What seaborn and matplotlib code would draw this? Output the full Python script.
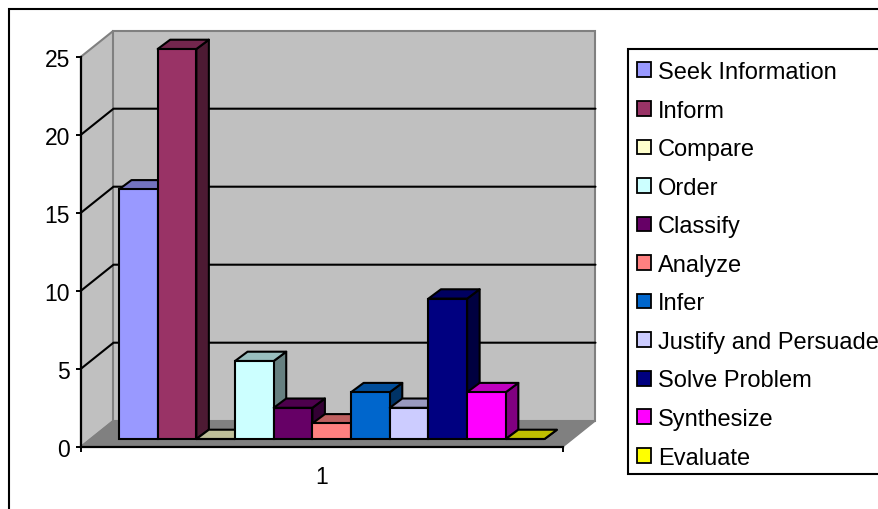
import matplotlib
matplotlib.use("Agg")
import matplotlib.pyplot as plt
from matplotlib.colors import to_rgb
from matplotlib.patches import Patch, Polygon, Rectangle
import pandas as pd
import seaborn as sns

activities = ["Seek Information", "Inform", "Compare", "Order", "Classify", "Analyze",
              "Infer", "Justify and Persuade", "Solve Problem", "Synthesize", "Evaluate"]
counts = [16, 25, 0, 5, 2, 1, 3, 2, 9, 3, 0]
colors = ["#9999FF", "#993366", "#FFFFCC", "#CCFFFF", "#660066", "#FF8080",
          "#0066CC", "#CCCCFF", "#000080", "#FF00FF", "#FFFF00"]
value_ticks = [0, 5, 10, 15, 20, 25]
category_label = "1"

W, H = 879, 510
sns.set_theme(style="white")
plt.rcParams["font.family"] = ["Liberation Sans", "DejaVu Sans"]
TICK_FONT = 16.5
LEGEND_FONT = 17
INK = "black"

fig = plt.figure(figsize=(W / 100, H / 100), dpi=100, facecolor="white")


def box(left, top, right, bottom):
    """Axes rectangle from pixel edges measured from the top-left corner."""
    return [left / W, 1 - bottom / H, (right - left) / W, (bottom - top) / H]


# Pixel canvas for the chart frame, walls, floor and legend frame
canvas = fig.add_axes([0, 0, 1, 1], zorder=0)
canvas.set_xlim(0, W)
canvas.set_ylim(H, 0)
canvas.axis("off")
canvas.add_patch(Rectangle((9, 10), W + 10, H + 10, fc="white", ec=INK, lw=1.5))
canvas.add_patch(Rectangle((628, 49.5), W, 425, fc="white", ec=INK, lw=1.5))

FRONT_L, FRONT_R, FRONT_B = 81, 563, 447.7
DEPTH_X, DEPTH_Y = 32.5, 26
UNIT = 15.6
back_b = FRONT_B - DEPTH_Y
top_val = max(value_ticks)

wall_grey, floor_grey = "#C0C0C0", "#808080"
canvas.add_patch(Polygon([(FRONT_L, FRONT_B), (FRONT_L, FRONT_B - top_val * UNIT),
                          (FRONT_L + DEPTH_X, back_b - top_val * UNIT), (FRONT_L + DEPTH_X, back_b)],
                         fc=wall_grey, ec=floor_grey, lw=1.5))
canvas.add_patch(Polygon([(FRONT_L + DEPTH_X, back_b), (FRONT_L + DEPTH_X, back_b - top_val * UNIT),
                          (FRONT_R + DEPTH_X, back_b - top_val * UNIT), (FRONT_R + DEPTH_X, back_b)],
                         fc=wall_grey, ec=floor_grey, lw=1.5))
canvas.add_patch(Polygon([(FRONT_L, FRONT_B), (FRONT_L + DEPTH_X, back_b),
                          (FRONT_R + DEPTH_X, back_b), (FRONT_R, FRONT_B)],
                         fc=floor_grey, ec=floor_grey, lw=1))
for v in value_ticks[1:-1]:
    y_front = FRONT_B - v * UNIT
    canvas.plot([FRONT_L, FRONT_L + DEPTH_X, FRONT_R + DEPTH_X],
                [y_front, y_front - DEPTH_Y, y_front - DEPTH_Y], color=INK, lw=1.5,
                solid_joinstyle="miter")

# Value axis along the front-left edge of the box
axis_ax = fig.add_axes(box(FRONT_L, FRONT_B - top_val * UNIT, FRONT_R, FRONT_B), zorder=1)
axis_ax.patch.set_alpha(0)
axis_ax.set_ylim(0, top_val)
axis_ax.set_xlim(0, 1)
axis_ax.set_yticks(value_ticks)
axis_ax.set_xticks([0, 1], labels=["", ""])
axis_ax.set_xticks([0.5], labels=[category_label], minor=True)
axis_ax.tick_params(axis="y", which="major", length=3.5, width=1.4, color=INK, left=True,
                    labelsize=TICK_FONT, pad=4.3, labelcolor=INK)
axis_ax.tick_params(axis="x", which="major", length=3.5, width=1.4, color=INK, bottom=True)
axis_ax.tick_params(axis="x", which="minor", length=0, labelsize=TICK_FONT, pad=13, labelcolor=INK)
for side in ("top", "right"):
    axis_ax.spines[side].set_visible(False)
for side in ("left", "bottom"):
    axis_ax.spines[side].set_color(INK)
    axis_ax.spines[side].set_linewidth(1.6)

# Bars stand on a plane set back from the front edge
BAR_L, BAR_R, BAR_B = 119, 544.5, 440
bar_ax = fig.add_axes(box(BAR_L, BAR_B - top_val * UNIT, BAR_R, BAR_B), zorder=2)
bar_ax.patch.set_alpha(0)
table = pd.DataFrame({"group": [category_label] * len(activities), "activity": activities, "count": counts})
sns.barplot(data=table, x="group", y="count", hue="activity", hue_order=activities,
            palette=colors, width=1, gap=0, saturation=1, dodge=True, legend=False,
            edgecolor=INK, linewidth=1.5, ax=bar_ax, errorbar=None)
bar_ax.set_xlim(-0.5, 0.5)
bar_ax.set_ylim(0, top_val)
bar_ax.axis("off")

# Extrude each bar with a shaded top and side face
dx = 12.5 / (BAR_R - BAR_L)
dy = 9.3 / UNIT
for i, (container, color) in enumerate(zip(bar_ax.containers, colors)):
    rect = container[0]
    x0, x1 = rect.get_x(), rect.get_x() + rect.get_width()
    h = rect.get_height()
    base = to_rgb(color)
    shade_top = tuple(c * 0.75 for c in base)
    shade_side = tuple(c * 0.5 for c in base)
    level = 3 + i
    rect.set_zorder(level + 0.5)
    rect.set_clip_on(False)
    bar_ax.add_patch(Polygon([(x1, 0), (x1 + dx, dy), (x1 + dx, h + dy), (x1, h)],
                             fc=shade_side, ec=INK, lw=1.5, zorder=level, clip_on=False,
                             joinstyle="round"))
    bar_ax.add_patch(Polygon([(x0, h), (x0 + dx, h + dy), (x1 + dx, h + dy), (x1, h)],
                             fc=shade_top, ec=INK, lw=1.5, zorder=level, clip_on=False,
                             joinstyle="round"))

handles = [Patch(facecolor=c, edgecolor=INK, linewidth=1.3) for c in colors]
fig.legend(handles, activities, loc="upper left", bbox_to_anchor=(628 / W, 1 - 53.5 / H),
           bbox_transform=fig.transFigure, borderaxespad=0, frameon=False,
           fontsize=LEGEND_FONT, handlelength=0.59, handleheight=0.59,
           handletextpad=0.3, labelspacing=0.70, borderpad=0.37, labelcolor=INK)

fig.savefig("out.png", dpi=100)
